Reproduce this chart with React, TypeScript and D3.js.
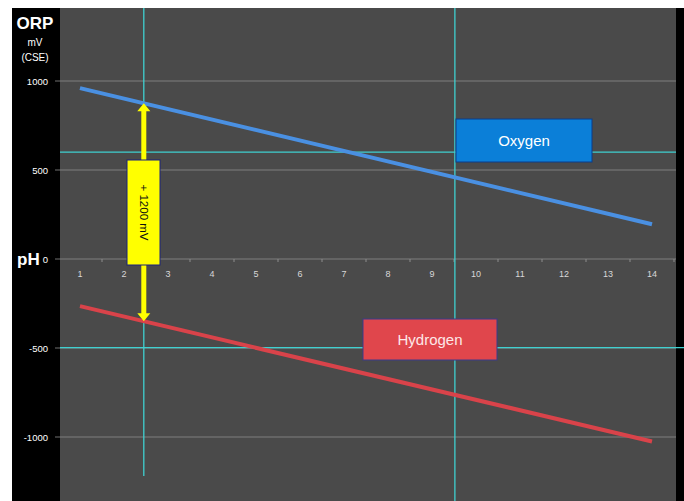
import React from "react";
import * as d3 from "d3";

const phTicks = [1, 2, 3, 4, 5, 6, 7, 8, 9, 10, 11, 12, 13, 14];
const mvTicks = [1000, 500, 0, -500, -1000];
const phEnds = [1, 14];
const oxygen = [960, 195];
const hydrogen = [-265, -1025];
const seriesNames = ["Oxygen", "Hydrogen"];
const gapLabel = "+ 1200 mV";
const crossPh = [2.45, 9.52];
const crossMv = [600, -498];

const W = 684;
const H = 501;
const FONT = "'Liberation Sans', Arial, Helvetica, sans-serif";

export default function App() {
  const x = d3.scaleLinear().domain([1, 14]).range([80, 652]);
  const y = d3.scaleLinear().domain([-1000, 1000]).range([437, 81]);
  const line = d3
    .line<[number, number]>()
    .x((d) => x(d[0]))
    .y((d) => y(d[1]));
  const oxPts = phEnds.map((p, i) => [p, oxygen[i]] as [number, number]);
  const hyPts = phEnds.map((p, i) => [p, hydrogen[i]] as [number, number]);
  const interp = (vals: number[], p: number) =>
    d3.scaleLinear().domain(phEnds).range(vals)(p);

  const ax = x(crossPh[0]);
  const aTop = y(interp(oxygen, crossPh[0]));
  const aBot = y(interp(hydrogen, crossPh[0]));
  const yellow = "#ffff00";

  return (
    <svg
      width={W}
      height={H}
      style={{ position: "absolute", left: 0, top: 0, display: "block" }}
    >
      <rect x={0} y={0} width={W} height={H} fill="#ffffff" />
      <rect x={12} y={8} width={W - 12} height={H - 8} fill="#000000" />
      <rect x={60} y={8} width={616} height={H - 8} fill="#4a4a4a" />

      {/* gridlines */}
      {mvTicks.map((t) => (
        <line
          key={t}
          x1={55}
          x2={676}
          y1={y(t)}
          y2={y(t)}
          stroke="#8c8c8c"
          strokeWidth={1.2}
          opacity={0.8}
        />
      ))}
      {phTicks.map((t) => (
        <line
          key={"tk" + t}
          x1={x(t) + 22}
          x2={x(t) + 22}
          y1={y(0)}
          y2={y(0) + 3}
          stroke="#8c8c8c"
          strokeWidth={1}
        />
      ))}

      {/* y tick labels */}
      {mvTicks.map((t) => (
        <text
          key={"l" + t}
          x={48}
          y={y(t) + 3.5}
          textAnchor="end"
          fill="#ffffff"
          fontSize={9.5}
          fontFamily={FONT}
        >
          {t === 0 ? "0" : t}
        </text>
      ))}
      <text x={35} y={29} textAnchor="middle" fill="#fff" fontSize={17} fontWeight="bold" fontFamily={FONT}>
        ORP
      </text>
      <text x={35} y={46} textAnchor="middle" fill="#fff" fontSize={10} fontFamily={FONT}>
        mV
      </text>
      <text x={35} y={61} textAnchor="middle" fill="#fff" fontSize={10} fontFamily={FONT}>
        (CSE)
      </text>
      <text x={17} y={y(0) + 6} fill="#fff" fontSize={17} fontWeight="bold" fontFamily={FONT}>
        pH
      </text>

      {/* x tick labels */}
      {phTicks.map((t) => (
        <text
          key={"x" + t}
          x={x(t)}
          y={y(0) + 18}
          textAnchor="middle"
          fill="#d8d8d8"
          fontSize={9}
          fontFamily={FONT}
        >
          {t}
        </text>
      ))}

      {/* cyan crosshair lines */}
      <line x1={x(crossPh[0])} x2={x(crossPh[0])} y1={8} y2={476} stroke="#3fd0d0" strokeWidth={1.3} />
      <line x1={x(crossPh[1])} x2={x(crossPh[1])} y1={8} y2={H} stroke="#3fd0d0" strokeWidth={1.3} />
      <line x1={60} x2={676} y1={y(crossMv[0])} y2={y(crossMv[0])} stroke="#3fd0d0" strokeWidth={1.3} />
      <line x1={60} x2={W} y1={y(crossMv[1])} y2={y(crossMv[1])} stroke="#3fd0d0" strokeWidth={1.3} />

      {/* series lines */}
      <path d={line(oxPts) || ""} stroke="#4a90e2" strokeWidth={4} fill="none" />
      <path d={line(hyPts) || ""} stroke="#d9434a" strokeWidth={4} fill="none" />

      {/* yellow double arrow */}
      <rect x={ax - 2.5} y={aTop + 6} width={5} height={aBot - aTop - 12} fill={yellow} />
      <path
        d={`M${ax},${aTop} L${ax + 6.5},${aTop + 8} L${ax - 6.5},${aTop + 8} Z`}
        fill={yellow}
      />
      <path
        d={`M${ax},${aBot} L${ax + 6.5},${aBot - 8} L${ax - 6.5},${aBot - 8} Z`}
        fill={yellow}
      />
      <rect x={127} y={160} width={33} height={105} fill={yellow} stroke="#1a237e" strokeWidth={1} />
      <text
        transform={`translate(${143.5},${212.5}) rotate(90)`}
        textAnchor="middle"
        dy={4}
        fill="#111"
        fontSize={11.5}
        fontFamily={FONT}
      >
        {gapLabel}
      </text>

      {/* labels */}
      <rect x={456} y={119} width={136} height={43} fill="#0b7fd8" stroke="#0a3d8a" strokeWidth={1} />
      <text x={524} y={146} textAnchor="middle" fill="#ffffff" fontSize={15} fontFamily={FONT}>
        {seriesNames[0]}
      </text>
      <rect x={363} y={319} width={134} height={41} fill="#e0464c" stroke="#3a3a8a" strokeWidth={1} />
      <text x={430} y={345} textAnchor="middle" fill="#fde8e8" fontSize={15} fontFamily={FONT}>
        {seriesNames[1]}
      </text>
    </svg>
  );
}
